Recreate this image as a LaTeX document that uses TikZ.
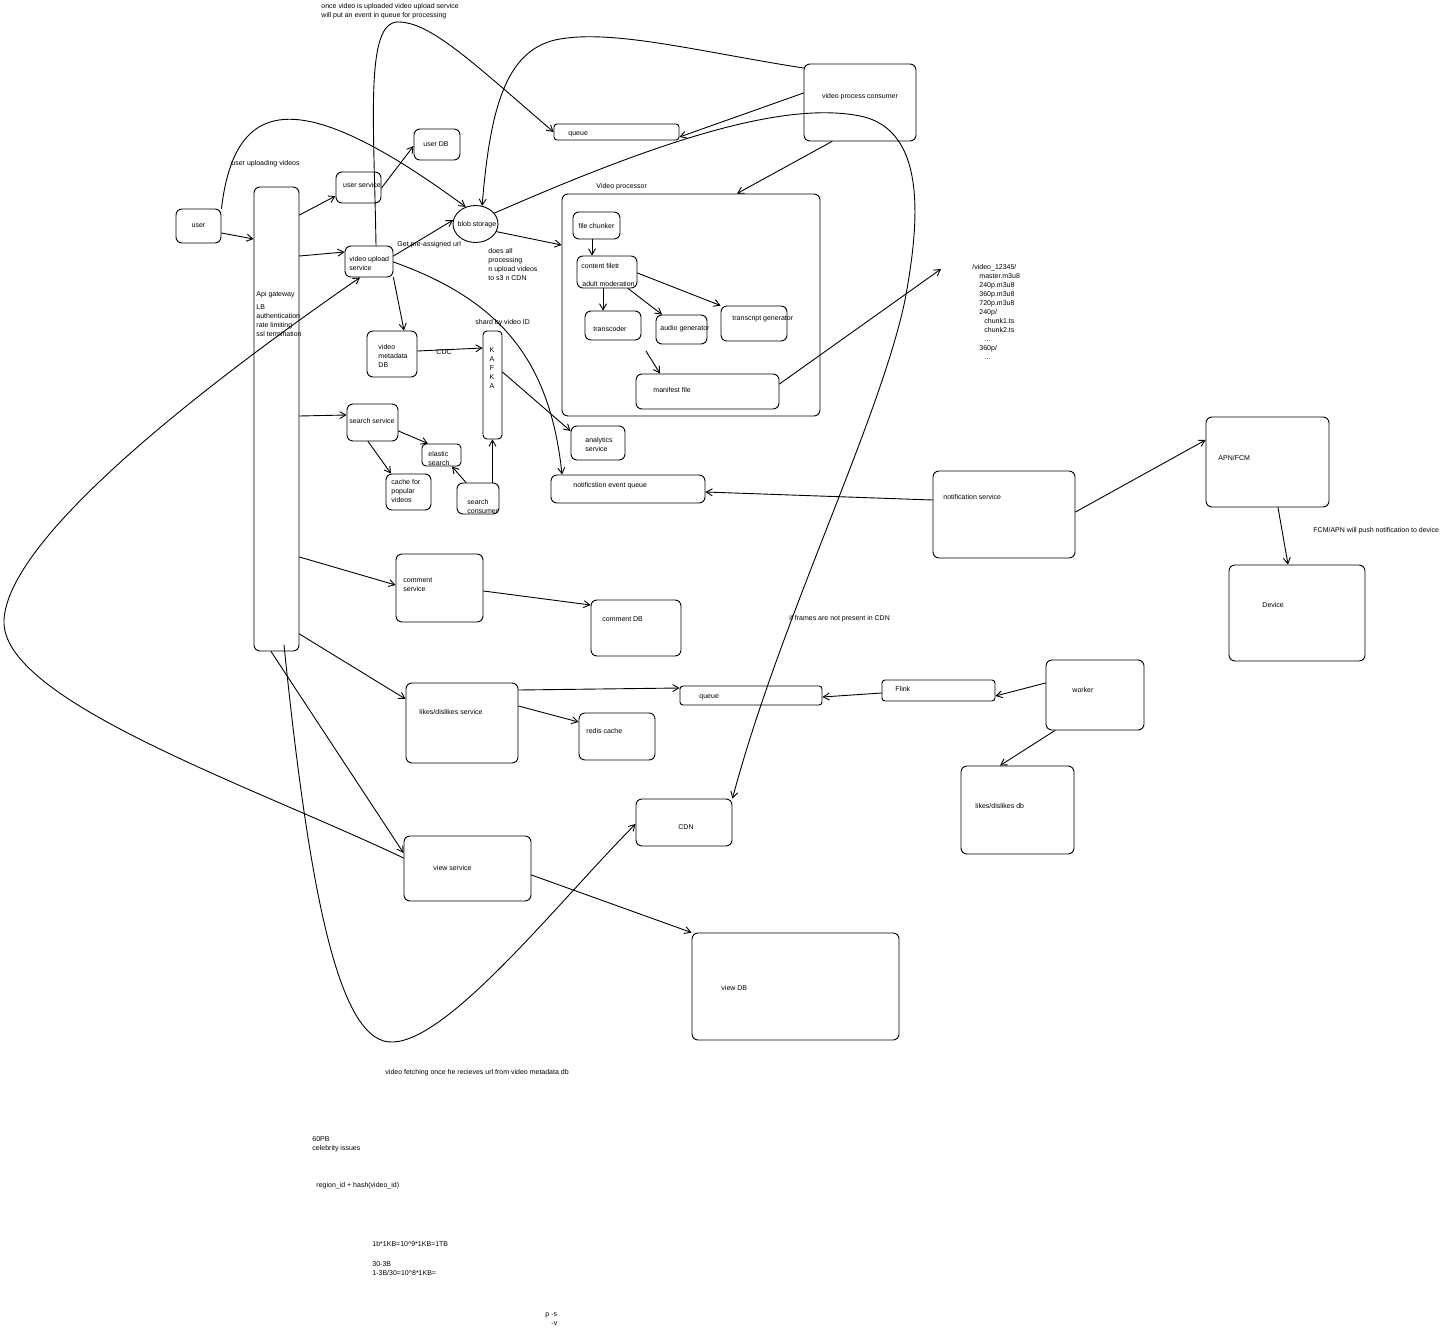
\documentclass[tikz,border=0pt]{standalone}
\usepackage{fontspec}
\setmainfont{Liberation Sans}
\usetikzlibrary{arrows.meta,shapes.geometric}

\tikzset{
  box/.style={draw, rounded corners=6pt, line width=0.9pt, inner sep=0pt},
  txt/.style={font=\fontsize{7}{9}\selectfont, inner sep=0pt, anchor=west, align=left},
  ctxt/.style={font=\fontsize{7}{9}\selectfont, inner sep=0pt, align=center},
  link/.style={line width=0.9pt, -{Straight Barb[length=6pt,width=7pt]}},
}

\begin{document}
\begin{tikzpicture}[x=1pt, y=-1pt, line width=0.9pt, line cap=round, line join=round]

  %% ════ boxes ════
  \node[box, minimum width=45, minimum height=34] (user) at (198.5,226) {};
  \node[box, minimum width=45, minimum height=464] (api) at (276.5,419) {};
  \node[box, minimum width=45, minimum height=31] (usersvc) at (358.5,187.5) {};
  \node[box, minimum width=46, minimum height=31] (userdb) at (437,144.5) {};
  \node[box, minimum width=48, minimum height=31] (upload) at (369,261.5) {};
  \node[draw, ellipse, line width=0.9pt, inner sep=0pt, minimum width=45, minimum height=37] (blob) at (475.5,224) {};
  \node[box, rounded corners=3pt, minimum width=125, minimum height=16] (queueA) at (616.5,132) {};
  \node[box, minimum width=112, minimum height=77] (vpc) at (860,102.5) {};
  \node[box, minimum width=258, minimum height=222] (vproc) at (691,305) {};
  \node[box, minimum width=47, minimum height=27] (chunker) at (596.5,225.5) {};
  \node[box, minimum width=60, minimum height=32] (filter) at (607,272) {};
  \node[box, minimum width=56, minimum height=29] (transcoder) at (613,325.5) {};
  \node[box, minimum width=51, minimum height=29] (audio) at (681.5,329.5) {};
  \node[box, minimum width=66, minimum height=35] (transcript) at (754,323.5) {};
  \node[box, minimum width=143, minimum height=35] (manifest) at (707.5,391.5) {};
  \node[box, minimum width=50, minimum height=46] (metadb) at (392,354) {};
  \node[box, rounded corners=4pt, minimum width=19, minimum height=108] (kafka) at (492.5,385) {};
  \node[box, minimum width=51, minimum height=37] (search) at (372.5,422.5) {};
  \node[box, rounded corners=4pt, minimum width=39, minimum height=22] (elastic) at (441.5,455) {};
  \node[box, minimum width=45, minimum height=36] (cache) at (408.5,492) {};
  \node[box, minimum width=42, minimum height=31] (sconsumer) at (478,498.5) {};
  \node[box, minimum width=54, minimum height=34] (analytics) at (598,443) {};
  \node[box, minimum width=154, minimum height=28] (notifq) at (628,489) {};
  \node[box, minimum width=142, minimum height=87] (notifsvc) at (1004,514.5) {};
  \node[box, minimum width=123, minimum height=90] (apn) at (1267.5,462) {};
  \node[box, minimum width=136, minimum height=96] (device) at (1297,613) {};
  \node[box, minimum width=87, minimum height=68] (commentsvc) at (439.5,588) {};
  \node[box, minimum width=90, minimum height=56] (commentdb) at (636,628) {};
  \node[box, minimum width=112, minimum height=80] (likesvc) at (462,723) {};
  \node[box, minimum width=76, minimum height=47] (redis) at (617,736.5) {};
  \node[box, rounded corners=3pt, minimum width=142, minimum height=19] (queueB) at (751,695.5) {};
  \node[box, rounded corners=3pt, minimum width=113, minimum height=21] (flink) at (938.5,690.5) {};
  \node[box, minimum width=98, minimum height=70] (worker) at (1095,695) {};
  \node[box, minimum width=113, minimum height=88] (likesdb) at (1017.5,810) {};
  \node[box, minimum width=96, minimum height=47] (cdn) at (684,822.5) {};
  \node[box, minimum width=127, minimum height=65] (viewsvc) at (467.5,868.5) {};
  \node[box, minimum width=207, minimum height=107] (viewdb) at (795.5,986.5) {};

  %% ════ texts ════
  \node[ctxt] (user-t) at (user) {user};
  \node[txt] (api-t) at (256,295) {Api gateway};
  \node[txt, anchor=north west] (api-t2) at (256,304) {LB\\authentication\\rate limiting\\ssl termination};
  \node[ctxt] (usersvc-t) at (362,185) {user service};
  \node[ctxt] (userdb-t) at (436,144) {user DB};
  \node[txt] (upload-t) at (349,263) {video upload\\service};
  \node[ctxt] (blob-t) at (477,225) {blob storage};
  \node[txt] (queueA-t) at (568,134) {queue};
  \node[ctxt] (vpc-t) at (860,97) {video process consumer};
  \node[txt] (vproc-t) at (596,187) {Video processor};
  \node[ctxt] (chunker-t) at (chunker) {file chunker};
  \node[txt] (filter-t) at (581,266) {content filetr};
  \node[txt] (filter-t2) at (582,284) {adult moderation};
  \node[txt] (transcoder-t) at (593,329) {transcoder};
  \node[txt] (audio-t) at (660,329) {audio generator};
  \node[txt] (transcript-t) at (732,319) {transcript generator};
  \node[txt] (manifest-t) at (653,390) {manifest file};
  \node[txt] (metadb-t) at (378,356) {video\\metadata\\DB};
  \node[txt] (shard-t) at (475,323) {shard by video ID};
  \node[txt] (cdc-t) at (436,352) {CDC};
  \node[ctxt, anchor=north] (kafka-t) at (492,347) {K\\A\\F\\K\\A};
  \node[ctxt] (search-t) at (372,421) {search service};
  \node[txt] (elastic-t) at (428,458) {elastic\\search};
  \node[txt] (cache-t) at (391,491) {cache for\\popular\\videos};
  \node[txt] (sconsumer-t) at (467,506) {search\\consumer};
  \node[txt] (analytics-t) at (585,444) {analytics\\service};
  \node[txt] (notifq-t) at (573,486) {notificstion event queue};
  \node[txt] (notifsvc-t) at (943,497) {notification service};
  \node[txt] (apn-t) at (1218,458) {APN/FCM};
  \node[txt] (device-t) at (1262,605) {Device};
  \node[txt] (commentsvc-t) at (403,585) {comment\\service};
  \node[txt] (commentdb-t) at (602,619) {comment DB};
  \node[txt] (likesvc-t) at (419,712) {likes/dislikes service};
  \node[txt] (redis-t) at (586,731) {redis cache};
  \node[txt] (queueB-t) at (699,697) {queue};
  \node[txt] (flink-t) at (895,689) {Flink};
  \node[txt] (worker-t) at (1072,690) {worker};
  \node[txt] (likesdb-t) at (975,806) {likes/dislikes db};
  \node[ctxt] (cdn-t) at (686,827) {CDN};
  \node[txt] (viewsvc-t) at (433,868) {view service};
  \node[txt] (viewdb-t) at (721,988) {view DB};

  %% ════ notes ════
  \node[txt, anchor=north west] (note-queue) at (321,3) {once video is uploaded video upload service\\will put an event in queue for processing};
  \node[txt] (note-upl) at (231,164) {user uploading videos};
  \node[txt] (note-url) at (397,245) {Get pre-assigned url};
  \node[txt, anchor=north west] (note-proc) at (488,248) {does all\\processing\\n upload videos\\to s3 n CDN};
  \node[txt, anchor=north west] (hls) at (972,264) {/video\_12345/\\
    \hspace*{7pt}master.m3u8\\ \hspace*{7pt}240p.m3u8\\ \hspace*{7pt}360p.m3u8\\ \hspace*{7pt}720p.m3u8\\
    \hspace*{7pt}240p/\\ \hspace*{12pt}chunk1.ts\\ \hspace*{12pt}chunk2.ts\\ \hspace*{12pt}...\\
    \hspace*{7pt}360p/\\ \hspace*{12pt}...};
  \node[txt] (note-push) at (1313,531) {FCM/APN will push notification to device};
  \node[txt] (note-cdn) at (789,619) {if frames are not present in CDN};
  \node[txt] (note-fetch) at (385,1073) {video fetching once he recieves url from video metadata db};
  \node[txt, anchor=north west] (note-pb) at (312,1136) {60PB\\celebrity issues};
  \node[txt] (note-hash) at (316,1186) {region\_id + hash(video\_id)};
  \node[txt] (note-calc) at (372,1244) {1b*1KB=10\textasciicircum 9*1KB=1TB};
  \node[txt, anchor=north west] (note-calc2) at (372,1261) {30-3B\\1-3B/30=10\textasciicircum 8*1KB=};
  \node[txt, anchor=north west] (note-ps) at (545,1312) {p -s\\\hspace*{6pt}-v};

  \coordinate (mstart) at (646,351);
  \coordinate (hls-in) at (941,269);

  %% ════ connectors ════
  \draw[link] (user.east |- 0,233) -- (api.west |- 0,239);
  \draw[link] (user.north east) .. controls (235,95) and (300,85) .. (blob.120);
  \draw[link] (api.east |- 0,215) -- (usersvc.west |- 0,196);
  \draw[link] (usersvc.east |- 0,188) -- (userdb.west |- 0,146);
  \draw[link] (api.east |- 0,256) -- (upload.west |- 0,252);
  \draw[link] (upload.east |- 0,256) -- (blob.170);
  \draw[link] (376,0 |- upload.north) .. controls (374,120) and (365,22) .. (398,22)
              .. controls (430,22) and (470,60) .. (queueA.west);
  \draw[link] (vpc.west |- 0,93) -- (queueA.east |- 0,137);
  \draw[link] (vpc.west |- 0,68) .. controls (700,52) and (610,28) .. (555,40)
              .. controls (505,52) and (490,110) .. (blob.70);
  \draw[link] (832,0 |- vpc.south) -- (737,0 |- vproc.north);
  \draw[link] (blob.-20) -- (vproc.west |- 0,245);
  \draw[link] (blob.30) .. controls (650,145) and (780,100) .. (860,116)
              .. controls (930,130) and (918,230) .. (905,300)
              .. controls (880,420) and (780,620) .. (cdn.north east);
  \draw[link] (upload.south east) -- (404,0 |- metadb.north);
  \draw[link] (upload.east |- 0,262) .. controls (500,300) and (550,360) .. (562,0 |- notifq.north);
  \draw[link] (metadb.east |- 0,351) -- (kafka.west |- 0,348);
  \draw[link] (kafka.east |- 0,372) -- (analytics.west |- 0,431);
  \draw[link] (kafka.south |- sconsumer.north) -- (kafka.south);
  \draw[link] (466,0 |- sconsumer.north) -- (452,0 |- elastic.south);
  \draw[link] (api.east |- 0,416) -- (search.west |- 0,415);
  \draw[link] (search.east |- 0,431) -- (428,0 |- elastic.north);
  \draw[link] (368,0 |- search.south) -- (391,0 |- cache.north);
  \draw[link] (592,0 |- chunker.south) -- (592,0 |- filter.north);
  \draw[link] (603,0 |- filter.south) -- (603,0 |- transcoder.north);
  \draw[link] (628,0 |- filter.south) -- (662,0 |- audio.north);
  \draw[link] (filter.east |- 0,273) -- (transcript.north west);
  \draw[link] (mstart) -- (660,0 |- manifest.north);
  \draw[link] (manifest.east |- 0,384) -- (hls-in);
  \draw[link] (notifsvc.west |- 0,500) -- (notifq.east |- 0,492);
  \draw[link] (notifsvc.east |- 0,512) -- (apn.west |- 0,440);
  \draw[link] (1278,0 |- apn.south) -- (1288,0 |- device.north);
  \draw[link] (api.east |- 0,557) -- (commentsvc.west |- 0,585);
  \draw[link] (commentsvc.east |- 0,591) -- (commentdb.west |- 0,605);
  \draw[link] (api.east |- 0,634) -- (likesvc.west |- 0,699);
  \draw[link] (likesvc.east |- 0,690) -- (queueB.west |- 0,688);
  \draw[link] (likesvc.east |- 0,706) -- (redis.west |- 0,722);
  \draw[link] (flink.west |- 0,693) -- (queueB.east |- 0,697);
  \draw[link] (worker.west |- 0,683) -- (flink.east |- 0,696);
  \draw[link] (1055,0 |- worker.south) -- (1000,0 |- likesdb.north);
  \draw[link] (271,0 |- api.south) -- (viewsvc.west |- 0,853);
  \draw[link] (284,645) .. controls (310,900) and (340,1045) .. (393,1042)
              .. controls (450,1040) and (560,900) .. (cdn.west |- 0,824);
  \draw[link] (viewsvc.west |- 0,858) .. controls (250,785) and (0,700) .. (4,620)
              .. controls (8,540) and (190,395) .. (360,0 |- upload.south);
  \draw[link] (viewsvc.east |- 0,875) -- (viewdb.north west);

  \pgfresetboundingbox
  \path[use as bounding box] (0,0) rectangle (1456,1332);
\end{tikzpicture}
\end{document}
